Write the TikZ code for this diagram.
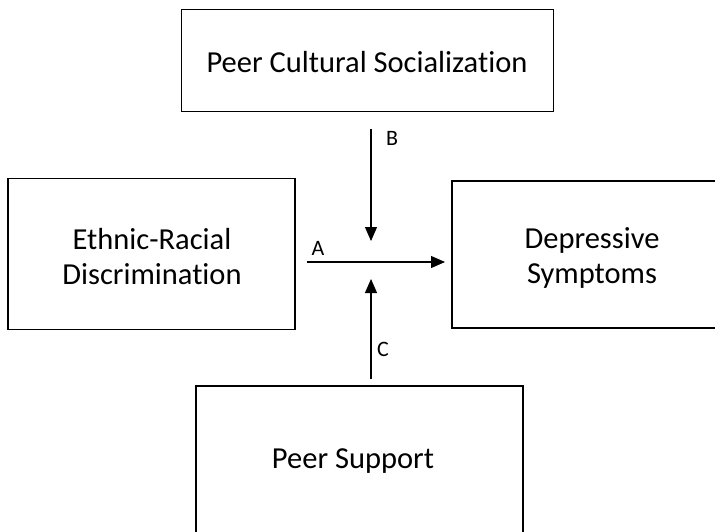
\documentclass[tikz,border=0pt]{standalone}
\usepackage{fontspec}
\setmainfont{Carlito}[Ligatures=NoCommon]
\usetikzlibrary{arrows.meta}
\begin{document}
\begin{tikzpicture}[x=1pt,y=-1pt,
  box/.style={draw=black,line width=1.9pt,rectangle,inner sep=0pt},
  lbl/.style={font=\fontsize{30.5}{35}\selectfont,align=center,inner sep=0pt},
  small/.style={font=\fontsize{22}{24}\selectfont,inner sep=0pt},
  arr/.style={line width=1.1pt,-{Triangle[length=14pt,width=12pt]}}]
\useasboundingbox[fill=white] (0,0) rectangle (715,531);
% boxes
\node[box,minimum width=372pt,minimum height=102pt] (top) at (367.5,60.5) {};
\node[box,minimum width=287pt,minimum height=151pt] (left) at (151.5,254) {};
\node[box,minimum width=290pt,minimum height=147pt] (right) at (597,254.5) {};
\node[box,minimum width=327pt,minimum height=170pt] (bottom) at (359.5,471) {};
% texts
\node[lbl] (ttop) at (367,62) {Peer Cultural Socialization};
\node[lbl] (tleft) at (152,257) {Ethnic-Racial\\Discrimination};
\node[lbl] (tright) at (592,258) {Depressive\\Symptoms};
\node[lbl] (tbottom) at (353,461) {Peer Support};
% arrow end points
\coordinate (a1) at (307,262);
\coordinate (a2) at (445,262);
\coordinate (b1) at (371,129);
\coordinate (b2) at (371,241);
\coordinate (c1) at (371,379);
\coordinate (c2) at (371,279);
\draw[arr] (a1) -- (a2);
\draw[arr] (b1) -- (b2);
\draw[arr] (c1) -- (c2);
% letters
\node[small] (la) at (318,248) {A};
\node[small] (lb) at (392,138) {B};
\node[small] (lc) at (383,349) {C};
\end{tikzpicture}
\end{document}
